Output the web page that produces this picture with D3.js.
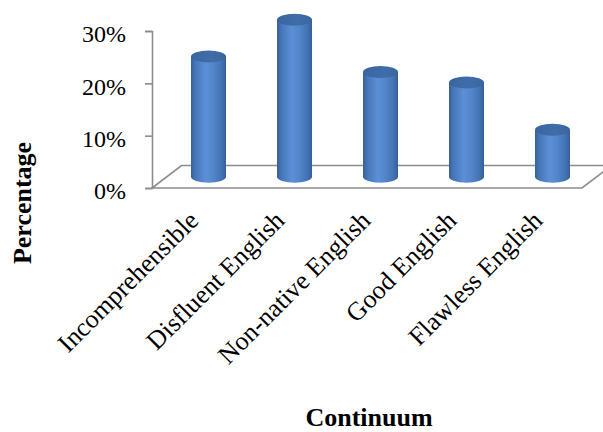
<!DOCTYPE html>
<html>
<head>
<meta charset="utf-8">
<script src="https://cdn.jsdelivr.net/npm/d3@7"></script>
<style>
  html, body { margin: 0; padding: 0; background: #fff; }
  svg { display: block; }
  text { font-family: "Liberation Serif", "Times New Roman", serif; fill: #000; }
</style>
</head>
<body>
<svg id="chart" width="603" height="432"></svg>
<script>
// Share of responses along the English-proficiency continuum
const categories = ["Incomprehensible", "Disfluent English", "Non-native English", "Good English", "Flawless English"];
const values = [23, 30, 20, 18, 9];
const yTicks = [0, 10, 20, 30];

const svg = d3.select("#chart");

// front edge of the floor and the y range of the value axis
const x = d3.scaleBand().domain(categories).range([152, 582]).paddingInner(0).paddingOuter(0);
const y = d3.scaleLinear().domain([0, 30]).range([188, 31]);

// oblique depth of the 3-D floor
const depthX = 29.5, depthY = -22.5;
const barShift = 13.5;     // bars stand halfway back on the floor
const rx = 17.5, ry = 6;   // cylinder cross-section

// gradients for the cylinder bodies and their caps
const defs = svg.append("defs");
const body = defs.append("linearGradient").attr("id", "cylBody").attr("x1", 0).attr("x2", 1).attr("y1", 0).attr("y2", 0);
[["0%", "#365f97"], ["12%", "#4676b8"], ["42%", "#5b8fd6"], ["62%", "#5387cc"], ["88%", "#4272b2"], ["100%", "#365f98"]]
  .forEach(([o, c]) => body.append("stop").attr("offset", o).attr("stop-color", c));
const cap = defs.append("linearGradient").attr("id", "cylCap").attr("x1", 0).attr("x2", 1).attr("y1", 0).attr("y2", 0);
[["0%", "#3a65a0"], ["60%", "#406da8"], ["100%", "#3a669f"]]
  .forEach(([o, c]) => cap.append("stop").attr("offset", o).attr("stop-color", c));

// floor outline
const [fx0, fx1] = x.range();
const fy = y(0);
svg.append("path")
  .attr("d", `M${fx0},${fy}L${fx1},${fy}L${fx1 + depthX},${fy + depthY}L${fx0 + depthX},${fy + depthY}Z`)
  .attr("fill", "#fff")
  .attr("stroke", "#8c8c8c")
  .attr("stroke-width", 1.6);

// value axis
const yAxis = svg.append("g")
  .attr("transform", `translate(${fx0},0)`)
  .call(d3.axisLeft(y).tickValues(yTicks).tickFormat(d => d + "%").tickSize(7).tickPadding(19));
yAxis.select(".domain").attr("stroke", "#8c8c8c").attr("stroke-width", 1.6);
yAxis.selectAll(".tick line").attr("stroke", "#8c8c8c").attr("stroke-width", 1.6);
yAxis.selectAll(".tick text")
  .attr("font-family", "'Liberation Serif', 'Times New Roman', serif")
  .attr("font-size", 24)
  .attr("dy", "0.45em")
  .attr("fill", "#000");

// cylinders
const baseY = y(0) + depthY / 2;
const bars = svg.append("g").selectAll("g.bar")
  .data(categories.map((c, i) => ({ c, v: values[i] })))
  .join("g").attr("class", "bar");

bars.append("path")
  .attr("d", d => {
    const cx = x(d.c) + x.bandwidth() / 2 + barShift;
    const top = y(d.v) + depthY / 2;
    return `M${cx - rx},${top}L${cx - rx},${baseY}A${rx},${ry} 0 0 0 ${cx + rx},${baseY}L${cx + rx},${top}Z`;
  })
  .attr("fill", "url(#cylBody)");

bars.append("ellipse")
  .attr("cx", d => x(d.c) + x.bandwidth() / 2 + barShift)
  .attr("cy", d => y(d.v) + depthY / 2)
  .attr("rx", rx)
  .attr("ry", ry)
  .attr("fill", "url(#cylCap)");

// rotated category labels under the floor
svg.append("g").selectAll("text")
  .data(categories)
  .join("text")
  .attr("transform", d => `translate(${x(d) + x.bandwidth() / 2 + 5},222) rotate(-45)`)
  .attr("text-anchor", "end")
  .attr("font-size", 26)
  .text(d => d);

// axis titles
svg.append("text")
  .attr("transform", "translate(31,203) rotate(-90)")
  .attr("text-anchor", "middle")
  .attr("font-size", 26)
  .attr("font-weight", "bold")
  .text("Percentage");

svg.append("text")
  .attr("x", 369)
  .attr("y", 426)
  .attr("text-anchor", "middle")
  .attr("font-size", 26)
  .attr("font-weight", "bold")
  .text("Continuum");
</script>
</body>
</html>
